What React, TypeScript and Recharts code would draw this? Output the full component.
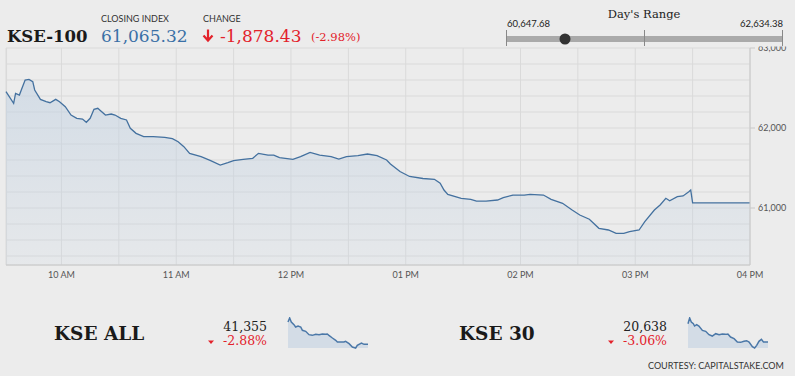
import React from 'react';
import { AreaChart, Area, XAxis, YAxis, CartesianGrid } from 'recharts';

// KSE-100 intraday (time, index level)
const times = [
  '09:31', '09:35', '09:36', '09:38', '09:39', '09:41', '09:43', '09:45', '09:46', '09:49',
  '09:52', '09:54', '09:57', '09:59', '10:02', '10:05', '10:08', '10:11', '10:13', '10:15',
  '10:17', '10:19', '10:20', '10:23', '10:26', '10:28', '10:31', '10:34', '10:36', '10:39',
  '10:43', '10:48', '10:54', '10:58', '11:01', '11:04', '11:07', '11:13', '11:18', '11:23',
  '11:27', '11:30', '11:35', '11:40', '11:43', '11:48', '11:51', '11:54', '12:01', '12:05',
  '12:10', '12:15', '12:21', '12:25', '12:29', '12:35', '12:40', '12:45', '12:50', '12:52',
  '12:57', '13:02', '13:09', '13:15', '13:18', '13:20', '13:22', '13:29', '13:34', '13:37',
  '13:42', '13:48', '13:51', '13:56', '14:02', '14:05', '14:12', '14:16', '14:22', '14:27',
  '14:31', '14:36', '14:41', '14:46', '14:50', '14:54', '14:57', '15:02', '15:05', '15:10',
  '15:13', '15:16', '15:18', '15:22', '15:25', '15:28', '15:29', '15:30', '16:00',
];
const values = [
  62454, 62308, 62433, 62412, 62475, 62600, 62608, 62579, 62475, 62358,
  62329, 62316, 62358, 62329, 62266, 62162, 62121, 62112, 62071, 62121,
  62233, 62246, 62225, 62162, 62175, 62162, 62121, 62100, 61996, 61933,
  61892, 61892, 61883, 61867, 61829, 61767, 61683, 61642, 61592, 61537,
  61567, 61592, 61608, 61621, 61683, 61662, 61662, 61629, 61608, 61642,
  61696, 61662, 61642, 61612, 61642, 61654, 61675, 61654, 61600, 61550,
  61456, 61394, 61369, 61359, 61309, 61225, 61171, 61121, 61109, 61087,
  61087, 61100, 61129, 61162, 61162, 61171, 61162, 61109, 61059, 60975,
  60912, 60859, 60746, 60725, 60684, 60684, 60704, 60725, 60829, 60975,
  61037, 61121, 61091, 61141, 61150, 61204, 61225, 61065, 61065,
];

const kseAllTimes = [
  '09:31', '09:39', '09:47', '10:00', '10:08', '10:20', '10:33', '10:41', '10:57', '11:13',
  '11:29', '11:46', '12:02', '12:18', '12:34', '12:42', '12:50', '13:07', '13:23', '13:31',
  '13:47', '14:03', '14:11', '14:28', '14:44', '15:00', '15:08', '15:28', '15:41', '16:00',
];
const kseAllValues = [
  42326, 42500, 42326, 42210, 42108, 42152, 42108, 41964, 41920, 41775,
  41746, 41790, 41775, 41804, 41790, 41804, 41746, 41630, 41529, 41456,
  41456, 41456, 41485, 41384, 41239, 41196, 41312, 41413, 41355, 41355,
];

const kse30Times = [
  '09:31', '09:39', '09:47', '09:57', '10:03', '10:13', '10:24', '10:41', '10:57', '11:13',
  '11:29', '11:46', '12:02', '12:18', '12:34', '12:45', '12:58', '13:15', '13:31', '13:47',
  '14:03', '14:16', '14:28', '14:44', '14:55', '15:05', '15:16', '15:28', '15:38', '16:00',
];
const kse30Values = [
  21067, 21200, 21106, 21067, 21012, 21044, 21012, 20911, 20888, 20810,
  20778, 20833, 20810, 20825, 20817, 20825, 20755, 20716, 20638, 20630,
  20654, 20669, 20638, 20529, 20498, 20560, 20654, 20700, 20638, 20638,
];

const dayLow = '60,647.68';
const dayHigh = '62,634.38';
const yTicks = [60400, 60600, 60800, 61000, 61200, 61400, 61600, 61800, 62000, 62200, 62400, 62600, 62800, 63000];

const toMin = (s: string) => {
  const [h, m] = s.split(':').map(Number);
  return h * 60 + m;
};

const build = (ts: string[], vs: number[]) => ts.map((t, i) => ({ t: toMin(t), v: vs[i] }));

const mainData = build(times, values);
const allData = build(kseAllTimes, kseAllValues);
const k30Data = build(kse30Times, kse30Values);

const X_START = 571.3;
const X_END = 960;
const xTicks = [X_START];
for (let m = 600; m <= X_END; m += 30) xTicks.push(m);

const RED = '#e3222b';
const LINE = '#44719f';
const BG = '#ececec';

const fmtHour = (m: number) => {
  if (m % 60 !== 0) return '';
  const h = m / 60;
  const h12 = h > 12 ? h - 12 : h;
  return `${String(h12).padStart(2, '0')} ${h < 12 ? 'AM' : 'PM'}`;
};

const YTick = (props: any) => {
  const { x, y, payload } = props;
  if (payload.value % 1000 !== 0) return <g />;
  return (
    <g>
      <line x1={x - 8} x2={x - 3} y1={y} y2={y} stroke="#c8c8c8" />
      <text x={x} y={y} dy="0.35em" textAnchor="start" fontFamily="Lato" fontSize={9} fill="#555">
        {payload.value.toLocaleString('en-US')}
      </text>
    </g>
  );
};

const Spark = ({ data, left }: { data: { t: number; v: number }[]; left: number }) => (
  <div style={{ position: 'absolute', left, top: 317, width: 82, height: 32 }}>
    <AreaChart width={82} height={32} data={data} margin={{ top: 1, right: 1, bottom: 1, left: 1 }}>
      <XAxis dataKey="t" type="number" domain={[571, 960]} hide />
      <YAxis domain={['dataMin', 'dataMax']} hide />
      <Area
        type="linear"
        dataKey="v"
        stroke="#4b78a8"
        strokeWidth={1.5}
        fill="#d3dce6"
        fillOpacity={1}
        baseValue="dataMin"
        isAnimationActive={false}
      />
    </AreaChart>
  </div>
);

export default function App() {
  return (
    <div style={{ position: 'absolute', left: 0, top: 0, width: 795, height: 376, background: BG, overflow: 'hidden' }}>
      <div style={{ position: 'absolute', left: 0, top: 0 }}>
        <AreaChart width={795} height={300} data={mainData} margin={{ top: 48, right: 0, bottom: 0, left: 6 }}>
          <defs>
            <linearGradient id="mainFill" x1="0" y1="0" x2="0" y2="1">
              <stop offset="0%" stopColor="#c3d2e2" stopOpacity={0.6} />
              <stop offset="100%" stopColor="#c3d2e2" stopOpacity={0.15} />
            </linearGradient>
          </defs>
          <CartesianGrid stroke="#dadada" />
          <XAxis
            dataKey="t"
            type="number"
            domain={[X_START, X_END]}
            ticks={xTicks}
            interval={0}
            height={35}
            tickFormatter={fmtHour}
            tickLine={false}
            tickSize={0}
            tickMargin={7}
            axisLine={{ stroke: '#c8c8c8' }}
            tick={{ fontFamily: 'Lato', fontSize: 9, fill: '#555' }}
          />
          <YAxis
            orientation="right"
            width={45}
            domain={[60287.5, 63000]}
            ticks={yTicks}
            interval={0}
            tickSize={5}
            tickMargin={3}
            tickLine={false}
            axisLine={{ stroke: '#c8c8c8' }}
            tick={<YTick />}
          />
          <Area
            type="linear"
            dataKey="v"
            stroke={LINE}
            strokeWidth={1.3}
            fill="url(#mainFill)"
            fillOpacity={1}
            isAnimationActive={false}
          />
        </AreaChart>
      </div>

      <Spark data={allData} left={287} />
      <Spark data={k30Data} left={687} />

      <svg width={795} height={376} style={{ position: 'absolute', left: 0, top: 0, pointerEvents: 'none' }}>
        <rect x={0} y={0} width={795} height={46.5} fill={BG} />

        <text x={7} y={41.5} fontFamily="DejaVu Serif" fontWeight="bold" fontSize={16.5} fill="#1a1a1a">KSE-100</text>
        <text x={101} y={21.5} fontFamily="Lato" fontSize={9} fill="#333">CLOSING INDEX</text>
        <text x={101} y={41.5} fontFamily="DejaVu Serif" fontSize={17} fill="#3a70a6">61,065.32</text>
        <text x={203} y={21.5} fontFamily="Lato" fontSize={9} fill="#333">CHANGE</text>
        <path d="M208,29.5 L208,40.5 M203.5,35.5 L208,40.5 L212.5,35.5" stroke={RED} strokeWidth={2.2} fill="none" />
        <text x={220} y={41.5} fontFamily="DejaVu Serif" fontSize={17} fill={RED}>-1,878.43</text>
        <text x={311} y={41} fontFamily="DejaVu Serif" fontSize={11.5} fill={RED}>(-2.98%)</text>

        <text x={644} y={17.5} textAnchor="middle" fontFamily="DejaVu Serif" fontSize={11.5} fill="#222">Day's Range</text>
        <text x={507} y={27} fontFamily="Lato" fontSize={9.5} fill="#222">{dayLow}</text>
        <text x={783} y={27} textAnchor="end" fontFamily="Lato" fontSize={9.5} fill="#222">{dayHigh}</text>
        <rect x={506} y={36} width={277} height={6} fill="#aaa" />
        <line x1={506.5} x2={506.5} y1={30} y2={46} stroke="#888" />
        <line x1={644.5} x2={644.5} y1={30} y2={46} stroke="#888" />
        <line x1={782.5} x2={782.5} y1={30} y2={46} stroke="#888" />
        <circle cx={565} cy={39} r={5.5} fill="#333" />

        <text x={54} y={340} fontFamily="DejaVu Serif" fontWeight="bold" fontSize={18.5} fill="#1a1a1a">KSE ALL</text>
        <text x={267} y={330.5} textAnchor="end" fontFamily="DejaVu Serif" fontSize={12.5} fill="#222">41,355</text>
        <path d="M208,340.5 L214,340.5 L211,344 Z" fill={RED} />
        <text x={267} y={345} textAnchor="end" fontFamily="DejaVu Serif" fontSize={12.5} fill={RED}>-2.88%</text>

        <text x={459} y={340} fontFamily="DejaVu Serif" fontWeight="bold" fontSize={18.5} fill="#1a1a1a">KSE 30</text>
        <text x={667} y={330.5} textAnchor="end" fontFamily="DejaVu Serif" fontSize={12.5} fill="#222">20,638</text>
        <path d="M608,340.5 L614,340.5 L611,344 Z" fill={RED} />
        <text x={667} y={345} textAnchor="end" fontFamily="DejaVu Serif" fontSize={12.5} fill={RED}>-3.06%</text>

        <text x={648} y={369} fontFamily="Lato" fontSize={9} fill="#333">COURTESY: CAPITALSTAKE.COM</text>
      </svg>
    </div>
  );
}
